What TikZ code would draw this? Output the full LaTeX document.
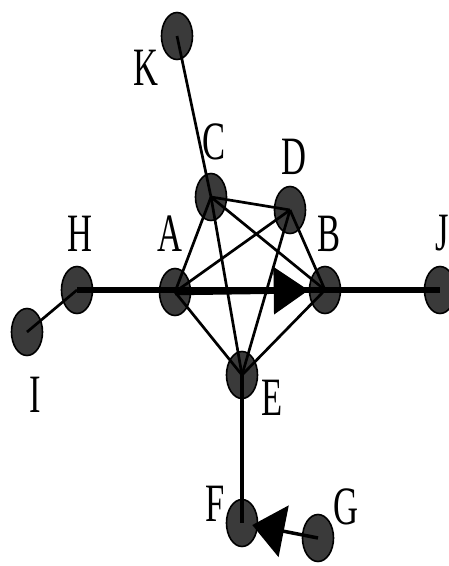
\documentclass[tikz,border=0pt]{standalone}
\usepackage{fontspec}
\setmainfont{Liberation Serif}
\usepackage{tikz}
\usetikzlibrary{shapes.geometric,arrows.meta}
\definecolor{VtxGray}{RGB}{58,58,58}
\newcommand{\narrowlbl}[1]{\scalebox{0.64}[1]{#1}}

\begin{document}
\begin{tikzpicture}[x=1pt,y=-1pt,
  vtx/.style={ellipse,draw=black,line width=1.6pt,fill=VtxGray,
              minimum width=31pt,minimum height=47pt,inner sep=0pt},
  lbl/.style={font=\fontsize{54}{54}\selectfont,inner sep=0pt},
  lnk/.style={line width=2.7pt},
  trunk/.style={line width=6.5pt},
  stemline/.style={line width=4.2pt},
]
\useasboundingbox (0,0) rectangle (448,566);
\node[vtx] (K) at (177,36) {};
\node[vtx] (C) at (211,197) {};
\node[vtx] (D) at (290,210) {};
\node[vtx] (H) at (77,290) {};
\node[vtx] (A) at (175,292) {};
\node[vtx] (B) at (325,290) {};
\node[vtx] (J) at (440,290) {};
\node[vtx] (I) at (27,332) {};
\node[vtx] (E) at (242,375) {};
\node[vtx] (F) at (242,523) {};
\node[vtx] (G) at (318,538) {};
\node[lbl] (lK) at (146,68) {\narrowlbl{K}};
\node[lbl] (lC) at (214,142) {\narrowlbl{C}};
\node[lbl] (lD) at (294,157) {\narrowlbl{D}};
\node[lbl] (lH) at (80,234) {\narrowlbl{H}};
\node[lbl] (lA) at (170,234) {\narrowlbl{A}};
\node[lbl] (lB) at (329,234) {\narrowlbl{B}};
\node[lbl] (lJ) at (442,233) {\narrowlbl{J}};
\node[lbl] (lI) at (35,395) {\narrowlbl{I}};
\node[lbl] (lE) at (272,398) {\narrowlbl{E}};
\node[lbl] (lF) at (215,504) {\narrowlbl{F}};
\node[lbl] (lG) at (346,507) {\narrowlbl{G}};
\draw[lnk] (K.center) -- (C.center);
\draw[lnk] (C.center) -- (D.center);
\draw[lnk] (C.center) -- (A.center);
\draw[lnk] (C.center) -- (E.center);
\draw[lnk] (C.center) -- (B.center);
\draw[lnk] (D.center) -- (A.center);
\draw[lnk] (D.center) -- (E.center);
\draw[lnk] (D.center) -- (B.center);
\draw[lnk] (A.center) -- (E.center);
\draw[lnk] (B.center) -- (E.center);
\draw[lnk] (H.center) -- (I.center);
\draw[stemline] (E.center) -- (F.center);
\draw[trunk] (H.center) -- (J.center);
\draw[trunk,-{Triangle[length=35pt,width=46pt]}] (A.center) -- (B);
\draw[line width=3.5pt,-{Triangle[length=32pt,width=52pt]},shorten >=-6pt] (G.center) -- (F);
\end{tikzpicture}
\end{document}
